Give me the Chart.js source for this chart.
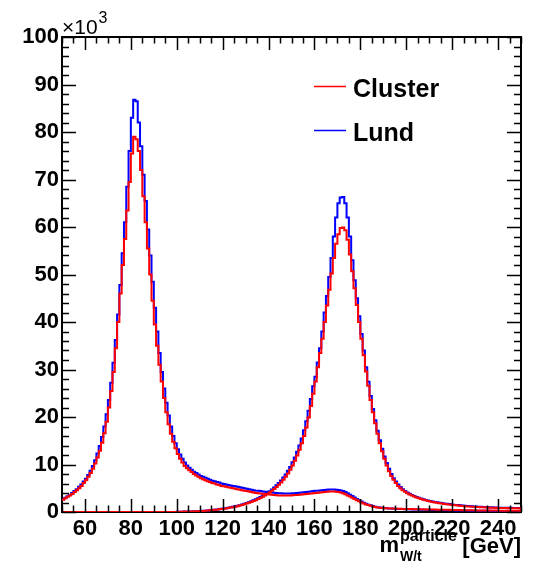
<!DOCTYPE html>
<html><head><meta charset="utf-8">
<script src="https://cdn.jsdelivr.net/npm/chart.js@4.4.1/dist/chart.umd.min.js"></script>
<style>html,body{margin:0;padding:0;background:#fff;}#wrap{width:533px;height:563px;}</style>
</head><body><div id="wrap"><canvas id="c" width="533" height="563"></canvas></div>
<script>
// axis range and binning (GeV)
const xMin = 50, xMax = 250, binWidth = 1;
const wStart = 50;     // first bin of the W-mass histograms
const topStart = 100;  // first filled bin of the top-mass histograms
const yMax = 100;      // x10^3 entries
const xTickLabels = [60, 80, 100, 120, 140, 160, 180, 200, 220, 240];
const yTickLabels = [0, 10, 20, 30, 40, 50, 60, 70, 80, 90, 100];

const seriesNames = ['Cluster', 'Lund'];

// Cluster, W candidate mass, bins 50..249 (x10^3)
const clusterW = [
 2.6,2.9,3.2,3.5,3.8,4.2,4.6,5.0,5.5,6.1,
 6.7,7.4,8.2,9.1,10.2,11.5,12.9,14.6,16.6,19.0,
 22.0,25.5,29.5,34.5,40.0,46.0,52.0,57.5,63.5,69.5,
 75.5,79.0,78.5,76.0,72.0,66.5,61.0,55.5,50.0,44.5,
 39.5,35.0,31.0,27.5,24.0,21.0,18.5,16.5,14.8,13.4,
 12.2,11.2,10.4,9.7,9.2,8.8,8.4,8.0,7.7,7.4,
 7.1,6.9,6.7,6.5,6.3,6.1,6.0,5.8,5.7,5.5,
 5.4,5.3,5.2,5.1,5.0,4.9,4.8,4.7,4.6,4.5,
 4.4,4.3,4.2,4.1,4.0,3.95,3.9,3.85,3.8,3.75,
 3.7,3.65,3.6,3.55,3.5,3.5,3.5,3.5,3.5,3.5,
 3.55,3.6,3.6,3.65,3.7,3.75,3.8,3.85,3.9,3.95,
 4.0,4.05,4.1,4.15,4.2,4.25,4.3,4.3,4.3,4.25,
 4.2,4.1,3.95,3.75,3.5,3.25,3.0,2.75,2.5,2.25,
 2.0,1.8,1.6,1.45,1.3,1.15,1.05,0.95,0.9,0.85,
 0.8,0.78,0.76,0.74,0.72,0.7,0.68,0.66,0.65,0.64,
 0.63,0.62,0.61,0.6,0.59,0.58,0.57,0.56,0.55,0.54,
 0.53,0.52,0.51,0.5,0.49,0.48,0.47,0.46,0.45,0.44,
 0.43,0.42,0.41,0.4,0.39,0.38,0.37,0.36,0.35,0.35,
 0.34,0.33,0.33,0.32,0.31,0.31,0.3,0.3,0.29,0.29,
 0.28,0.28,0.27,0.27,0.26,0.26,0.25,0.25,0.25,0.24
];

// Lund, W candidate mass, bins 50..249 (x10^3)
const lundW = [
 2.7,3.0,3.3,3.6,4.0,4.4,4.8,5.3,5.8,6.4,
 7.0,7.8,8.7,9.7,10.9,12.3,13.9,15.8,18.0,20.6,
 23.6,27.2,31.4,36.2,41.6,47.8,54.5,61.0,68.5,76.0,
 83.0,86.8,86.5,82.0,77.0,71.0,65.5,59.5,54.0,48.5,
 43.0,38.0,33.5,29.5,26.0,23.0,20.3,18.0,16.0,14.5,
 13.2,12.1,11.2,10.4,9.8,9.3,8.9,8.5,8.2,7.9,
 7.6,7.4,7.2,7.0,6.8,6.6,6.5,6.3,6.2,6.0,
 5.9,5.8,5.7,5.6,5.5,5.4,5.3,5.2,5.1,5.0,
 4.9,4.8,4.7,4.6,4.5,4.45,4.4,4.3,4.25,4.2,
 4.15,4.1,4.05,4.0,3.95,3.95,3.9,3.9,3.9,3.9,
 3.95,3.95,4.0,4.05,4.1,4.15,4.2,4.25,4.3,4.4,
 4.45,4.5,4.55,4.6,4.65,4.7,4.75,4.75,4.75,4.7,
 4.65,4.55,4.4,4.2,3.95,3.65,3.35,3.05,2.75,2.45,
 2.2,1.95,1.75,1.55,1.4,1.25,1.12,1.02,0.95,0.88,
 0.82,0.78,0.75,0.72,0.7,0.67,0.65,0.63,0.61,0.6,
 0.58,0.57,0.55,0.54,0.52,0.51,0.5,0.48,0.47,0.46,
 0.45,0.44,0.43,0.42,0.41,0.4,0.39,0.38,0.37,0.36,
 0.35,0.34,0.33,0.32,0.31,0.3,0.3,0.29,0.28,0.28,
 0.27,0.26,0.26,0.25,0.25,0.24,0.24,0.23,0.23,0.22,
 0.22,0.21,0.21,0.2,0.2,0.2,0.19,0.19,0.18,0.18
];

// Cluster, top candidate mass, bins 100..249 (x10^3)
const clusterTop = [
 0.05,0.06,0.07,0.08,0.09,0.1,0.11,0.13,0.15,0.17,
 0.2,0.23,0.27,0.31,0.35,0.4,0.45,0.5,0.56,0.62,
 0.69,0.76,0.84,0.93,1.02,1.12,1.23,1.35,1.48,1.62,
 1.77,1.93,2.1,2.29,2.5,2.72,2.96,3.22,3.5,3.8,
 4.12,4.47,4.85,5.27,5.73,6.23,6.78,7.4,8.1,8.9,
 9.8,10.8,11.9,13.1,14.5,16.0,17.8,19.9,22.3,24.9,
 27.5,30.5,33.5,36.5,40.0,43.5,46.8,50.2,53.5,56.5,
 58.5,59.8,59.9,59.3,57.3,54.2,50.7,47.1,43.6,40.0,
 36.5,33.0,29.6,26.6,23.6,21.0,18.7,16.5,14.5,12.8,
 11.2,9.8,8.6,7.6,6.8,6.1,5.5,5.0,4.6,4.25,
 3.95,3.7,3.45,3.25,3.05,2.88,2.72,2.58,2.45,2.33,
 2.22,2.12,2.02,1.93,1.85,1.77,1.7,1.63,1.57,1.51,
 1.45,1.4,1.35,1.3,1.26,1.22,1.18,1.15,1.12,1.09,
 1.06,1.03,1.0,0.98,0.96,0.94,0.92,0.9,0.88,0.86,
 0.85,0.84,0.83,0.82,0.81,0.8,0.79,0.78,0.77,0.76
];

// Lund, top candidate mass, bins 100..249 (x10^3)
const lundTop = [
 0.05,0.06,0.07,0.08,0.1,0.11,0.12,0.14,0.16,0.18,
 0.21,0.24,0.28,0.32,0.37,0.42,0.47,0.53,0.59,0.66,
 0.73,0.81,0.89,0.98,1.08,1.19,1.31,1.44,1.58,1.73,
 1.89,2.06,2.25,2.45,2.67,2.9,3.15,3.42,3.72,4.04,
 4.38,4.76,5.17,5.62,6.11,6.65,7.25,7.92,8.67,9.5,
 10.45,11.5,12.7,14.0,15.5,17.2,19.1,21.3,23.8,26.5,
 28.5,31.5,34.5,38.0,42.0,45.5,49.5,53.5,58.0,62.0,
 65.0,66.2,66.3,65.0,62.0,58.0,53.0,48.8,45.0,41.2,
 37.5,34.0,30.5,27.4,24.4,21.7,19.3,17.1,15.1,13.3,
 11.7,10.3,9.1,8.0,7.1,6.4,5.8,5.25,4.8,4.4,
 4.1,3.83,3.58,3.37,3.17,2.99,2.83,2.68,2.55,2.43,
 2.32,2.22,2.12,2.03,1.95,1.87,1.8,1.73,1.67,1.61,
 1.55,1.5,1.45,1.4,1.36,1.32,1.28,1.24,1.21,1.18,
 1.15,1.12,1.09,1.06,1.04,1.02,1.0,0.98,0.96,0.94,
 0.92,0.91,0.9,0.89,0.88,0.87,0.86,0.85,0.84,0.83
];

const RED = '#ff0000', BLUE = '#0000ff';
const FONT = "'Liberation Sans', Arial, Helvetica, sans-serif";

// histogram outline points: value of bin i held from its low edge to the next edge
function histPoints(start, vals, emptyFrom) {
  const pts = [];
  if (emptyFrom !== undefined && emptyFrom < start) pts.push({x: emptyFrom, y: 0});
  vals.forEach((v, i) => pts.push({x: start + i * binWidth, y: v}));
  pts.push({x: start + vals.length * binWidth, y: vals[vals.length - 1]});
  return pts;
}

function ds(label, pts, color, order) {
  return {label, data: pts, borderColor: color, backgroundColor: color, borderWidth: 2,
    stepped: 'before', pointRadius: 0, pointHoverRadius: 0, fill: false, tension: 0, order};
}

const rootStyle = {
  id: 'rootStyle',
  beforeDatasetsDraw(chart) {
    const {ctx, chartArea: a} = chart;
    ctx.save();
    ctx.strokeStyle = '#000';
    ctx.lineWidth = 2;
    ctx.strokeRect(a.left, a.top, a.right - a.left, a.bottom - a.top);
    ctx.restore();
  },
  afterDatasetsDraw(chart) {
    const {ctx, chartArea: a, scales: {x, y}} = chart;
    ctx.save();
    ctx.strokeStyle = '#000';
    ctx.lineWidth = 1.5;
    ctx.beginPath();
    for (let v = xMin; v <= xMax; v += 5) {
      const px = Math.round(x.getPixelForValue(v)) + 0.5;
      const len = (v % 20 === 0) ? 13 : 6.5;
      ctx.moveTo(px, a.bottom); ctx.lineTo(px, a.bottom - len);
      ctx.moveTo(px, a.top); ctx.lineTo(px, a.top + len);
    }
    for (let v = 0; v <= yMax; v += 2) {
      const py = Math.round(y.getPixelForValue(v)) + 0.5;
      const len = (v % 10 === 0) ? 14 : 7;
      ctx.moveTo(a.left, py); ctx.lineTo(a.left + len, py);
      ctx.moveTo(a.right, py); ctx.lineTo(a.right - len, py);
    }
    ctx.stroke();
    ctx.restore();
  },
  afterDraw(chart) {
    const {ctx, chartArea: a} = chart;
    ctx.save();
    ctx.fillStyle = '#000';
    ctx.textBaseline = 'alphabetic';
    // exponent label
    ctx.textAlign = 'left';
    ctx.font = `21px ${FONT}`;
    ctx.fillText('\u00d710', a.left, 34);
    const w10 = ctx.measureText('\u00d710').width;
    ctx.font = `16px ${FONT}`;
    ctx.fillText('3', a.left + w10 + 1, 23);
    // axis title  m^{particle}_{W/t} [GeV]
    ctx.font = `bold 22px ${FONT}`;
    ctx.textAlign = 'right';
    ctx.fillText('[GeV]', a.right, 553);
    ctx.textAlign = 'left';
    ctx.font = `bold 16px ${FONT}`;
    ctx.fillText('particle', 400, 541);
    ctx.font = `bold 14px ${FONT}`;
    ctx.fillText('W/t', 400, 561);
    ctx.textAlign = 'right';
    ctx.font = `bold 22px ${FONT}`;
    ctx.fillText('m', 399, 552);
    // legend
    const entries = [[seriesNames[0], RED, 86, 97], [seriesNames[1], BLUE, 130, 140.5]];
    ctx.textAlign = 'left';
    ctx.font = `bold 25px ${FONT}`;
    entries.forEach(([t, c, ly, by]) => {
      ctx.strokeStyle = c; ctx.lineWidth = 1.5;
      ctx.beginPath(); ctx.moveTo(314, ly + 0.5); ctx.lineTo(346, ly + 0.5); ctx.stroke();
      ctx.fillText(t, 353, by);
    });
    ctx.restore();
  }
};

const tickFont = {family: FONT, size: 22, weight: 'bold'};

new Chart(document.getElementById('c'), {
  type: 'line',
  data: {
    datasets: [
      ds(seriesNames[0], histPoints(wStart, clusterW), RED, 0),
      ds(seriesNames[0] + ' top', histPoints(topStart, clusterTop, xMin), RED, 1),
      ds(seriesNames[1], histPoints(wStart, lundW), BLUE, 2),
      ds(seriesNames[1] + ' top', histPoints(topStart, lundTop, xMin), BLUE, 3)
    ]
  },
  options: {
    responsive: false,
    animation: false,
    devicePixelRatio: 1,
    layout: {padding: {top: 37, right: 12, left: 0, bottom: 0}},
    plugins: {legend: {display: false}, tooltip: {enabled: false}},
    scales: {
      x: {
        type: 'linear', min: xMin, max: xMax,
        grid: {display: false, drawTicks: false}, border: {display: false},
        afterBuildTicks(s) { s.ticks = xTickLabels.map(v => ({value: v})); },
        ticks: {autoSkip: false, maxRotation: 0, color: '#000', font: tickFont, padding: 4},
        afterFit(s) { s.height = 51; }
      },
      y: {
        type: 'linear', min: 0, max: yMax,
        grid: {display: false, drawTicks: false}, border: {display: false},
        afterBuildTicks(s) { s.ticks = yTickLabels.map(v => ({value: v})); },
        ticks: {autoSkip: false, color: '#000', font: tickFont, padding: 3},
        afterFit(s) { s.width = 62; }
      }
    }
  },
  plugins: [rootStyle]
});
</script></body></html>
